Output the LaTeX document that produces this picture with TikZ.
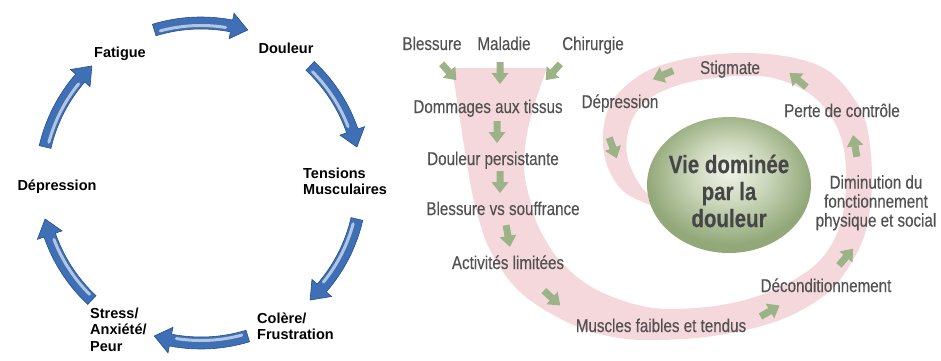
\documentclass[tikz,border=0pt]{standalone}
\usepackage{fontspec}
\usepackage{tikz}
\usetikzlibrary{positioning}
\newfontfamily\lsans{Liberation Sans}
\newfontfamily\lnarrow[FakeStretch=0.82, FakeBold=0.3]{Liberation Sans}
\definecolor{cycblue}{HTML}{3F6FB5}
\definecolor{cycdark}{HTML}{24508F}
\definecolor{swoosh}{HTML}{F5D8DC}
\definecolor{leaf}{HTML}{9CB388}
\definecolor{txtgrey}{HTML}{525252}
\definecolor{vietxt}{HTML}{464646}
\definecolor{vielight}{HTML}{F2F5EC}
\definecolor{viemid}{HTML}{CAD6B9}
\definecolor{viedark}{HTML}{92A879}
\pgfdeclareradialshading{vieball}{\pgfpoint{0bp}{6bp}}{color(0bp)=(vielight); color(12bp)=(viemid); color(25bp)=(viedark); color(50bp)=(viedark)}

\begin{document}
\begin{tikzpicture}[
      x=1pt, y=1pt,
      cyc/.style={font=\lsans\bfseries\fontsize{14.5}{16.5}\selectfont, inner sep=0pt, align=left},
      cause/.style={font=\lnarrow\fontsize{18.5}{19}\selectfont, text=txtgrey, inner sep=0pt, anchor=base, align=center},
      vie/.style={font=\lnarrow\bfseries\fontsize{25}{27}\selectfont, text=vietxt, inner sep=0pt, align=center},
      garrow/.pic={\fill[leaf] (-11,-3.5) -- (0,-3.5) -- (0,-8.5) -- (11,0) -- (0,8.5) -- (0,3.5) -- (-11,3.5) -- cycle;}
    ]
    \useasboundingbox (0,0) rectangle (941,360);

    % left: vicious circle
    \begin{scope}[shift={(201,177)}]
      \foreach \a in {90,30,-30,-90,-150,150} {
        \filldraw[fill=cycblue, draw=cycdark, line width=0.6pt]
          ({\a+17}:166) arc[start angle=\a+17, end angle=\a-11, radius=166]
          -- ({\a-11}:173) -- ({\a-17}:160) -- ({\a-11}:147) -- ({\a-11}:154)
          arc[start angle=\a-11, end angle=\a+17, radius=154] -- cycle;
        \draw[white, opacity=0.6, line width=3pt, line cap=round]
          ({\a+15}:157.5) arc[start angle=\a+15, end angle=\a-9, radius=157.5];
      }
    \end{scope}
    \node[cyc, anchor=base] (fatigue) at (120,303) {Fatigue};
    \node[cyc, anchor=base] (douleur) at (286,307) {Douleur};
    \node[cyc, anchor=north west] (tensions) at (303,192.5) {Tensions\\Musculaires};
    \node[cyc, anchor=north west] (colere) at (257,47.5) {Colère/\\Frustration};
    \node[cyc, anchor=north west] (stress) at (90,52.5) {Stress/\\Anxiété/\\Peur};
    \node[cyc, anchor=base] (depression) at (57,170) {Dépression};

    % right: life dominated by pain
    \fill[swoosh] plot[smooth, tension=0.6] coordinates {(452,292) (460,240) (468,190) (475,155) (490,110) (520,68) (567,38) (613,23) (660,20) (720,25) (780,40) (825,65) (850,95) (866,130) (872,180) (867,233) (853,263) (827,290) (790,303) (740,307) (690,302) (645,288) (613,260) (603,227) (607,195) (622,170) (645,157) (662,152)}
      -- plot[smooth, tension=0.6] coordinates {(662,152) (640,175) (627,205) (630,235) (645,258) (670,272) (700,280) (740,284) (773,282) (807,268) (830,245) (843,215) (846,175) (840,135) (822,102) (790,78) (745,60) (695,52) (647,53) (597,70) (562,97) (540,130) (530,160) (524,195) (530,240) (547,292)} -- cycle;
    \shade[shading=vieball] (729,175) ellipse[x radius=82, y radius=68];
    \node[vie] (vie) at (729,169) {Vie dominée\\par la\\douleur};

    \node[cause] (blessure) at (432,310) {Blessure};
    \node[cause] (maladie) at (504,310) {Maladie};
    \node[cause] (chirurgie) at (593,310) {Chirurgie};
    \node[cause] (dommages) at (488,247) {Dommages aux tissus};
    \node[cause] (persist) at (493,195) {Douleur persistante};
    \node[cause] (souffrance) at (503,145) {Blessure vs souffrance};
    \node[cause] (activites) at (508,91) {Activités limitées};
    \node[cause] (muscles) at (661,28) {Muscles faibles et tendus};
    \node[cause] (decond) at (826,68) {Déconditionnement};
    \node[cause, anchor=north] (diminution) at (876,185) {Diminution du\\fonctionnement\\physique et social};
    \node[cause] (perte) at (842,243) {Perte de contrôle};
    \node[cause] (stigmate) at (730,286) {Stigmate};
    \node[cause] (deprime) at (620,252) {Dépression};

    \pic[rotate=-48] at (449,288) {garrow};
    \pic[rotate=-90] at (500,287) {garrow};
    \pic[rotate=-132] at (553,288) {garrow};
    \pic[rotate=-90] at (497,228) {garrow};
    \pic[rotate=-90] at (500,178) {garrow};
    \pic[rotate=-80] at (508,124) {garrow};
    \pic[rotate=-42] at (552,62) {garrow};
    \pic[rotate=30] at (770,49) {garrow};
    \pic[rotate=50] at (846,103) {garrow};
    \pic[rotate=100] at (855,214) {garrow};
    \pic[rotate=140] at (798,280) {garrow};
    \pic[rotate=203] at (663,285) {garrow};
    \pic[rotate=-70] at (613,212) {garrow};
  \end{tikzpicture}
\end{document}
